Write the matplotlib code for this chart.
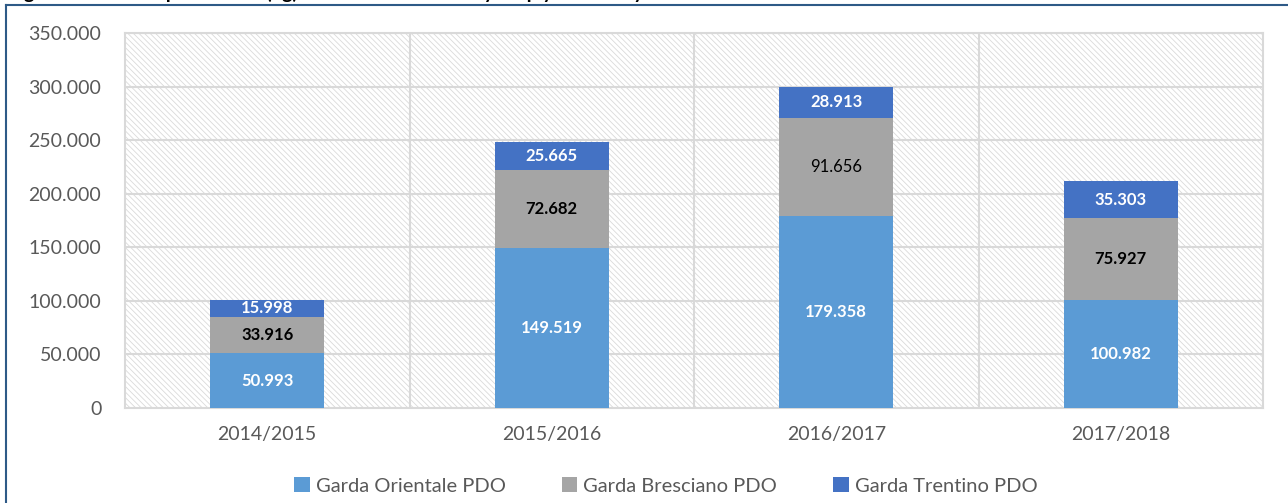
import matplotlib.pyplot as plt
from matplotlib.patches import Rectangle
from matplotlib.lines import Line2D
import numpy as np

# data
seasons = ["2014/2015", "2015/2016", "2016/2017", "2017/2018"]
orientale = [50993, 149519, 179358, 100982]
bresciano = [33916, 72682, 91656, 75927]
trentino = [15998, 25665, 28913, 35303]
series_names = ["Garda Orientale PDO", "Garda Bresciano PDO", "Garda Trentino PDO"]
series_colors = ["#5b9bd5", "#a5a5a5", "#4472c4"]
yticks = [0, 50000, 100000, 150000, 200000, 250000, 300000, 350000]


def fmt(v):
    """Italian thousands separator."""
    return f"{v:,}".replace(",", ".")


plt.rcParams['font.family'] = ['Lato', 'DejaVu Sans']
plt.rcParams['hatch.linewidth'] = 0.6

fig = plt.figure(figsize=(12.88, 5.03), dpi=100)
ax = fig.add_axes([125 / 1288, 1 - 408 / 503, (1263 - 125) / 1288, (408 - 33) / 503])

# hatched plot-area background
bg = Rectangle((0, 0), 1, 1, transform=ax.transAxes, facecolor="white",
               edgecolor="#dadada", linewidth=0, hatch="\\" * 6, zorder=0)
ax.add_patch(bg)

x = np.arange(len(seasons))
width = 0.40
bottoms = np.zeros(len(seasons))
label_styles = [("white", "bold"), ("black", "bold"), ("white", "bold")]
for i, vals in enumerate([orientale, bresciano, trentino]):
    vals = np.array(vals)
    ax.bar(x, vals, width, bottom=bottoms, color=series_colors[i],
           label=series_names[i], zorder=3)
    for j, v in enumerate(vals):
        color, weight = label_styles[i]
        if i == 1 and j == 2:
            weight = "normal"
        ax.text(x[j], bottoms[j] + v / 2, fmt(int(v)), ha="center", va="center",
                color=color, fontsize=12, fontweight=weight, zorder=4)
    bottoms += vals

ax.set_xlim(-0.5, 3.5)
ax.set_ylim(0, 350000)
ax.set_yticks(yticks)
ax.set_yticklabels([fmt(t) for t in yticks])
ax.set_xticks(x)
ax.set_xticklabels(seasons)
ax.tick_params(axis="y", length=0, pad=17, labelsize=14, labelcolor="#595959")
ax.tick_params(axis="x", length=0, pad=13, labelsize=14, labelcolor="#595959")

# gridlines: horizontal at ticks, vertical between categories
for t in yticks[1:]:
    ax.axhline(t, color="#d9d9d9", lw=1.5, zorder=1)
for b in [0.5, 1.5, 2.5]:
    ax.axvline(b, color="#d9d9d9", lw=1.5, zorder=1)
for s in ax.spines.values():
    s.set_color("#d9d9d9")
    s.set_linewidth(1.5)

fig.legend(loc="center", bbox_to_anchor=(0.517, 1 - 486 / 503), ncol=3,
           frameon=False, fontsize=14.5, handlelength=0.75, handleheight=0.75,
           handletextpad=0.3, columnspacing=2.8, labelcolor="#595959")

# clipped caption above and frame lines of the original document
fig.text(8 / 1288, 1 + 1 / 503,
         "Figure 2: Olive oil production (kg) of the Garda PDOs by crop year and by PDO",
         ha="left", va="baseline", fontsize=14, fontweight="bold", color="black")
fig.add_artist(Line2D([6 / 1288, 1], [1 - 5 / 503, 1 - 5 / 503], color="#2e5a87", lw=1.5))
fig.add_artist(Line2D([6 / 1288, 6 / 1288], [0, 1 - 5 / 503], color="#2e5a87", lw=1.5))

fig.savefig("out.png", dpi=100)
